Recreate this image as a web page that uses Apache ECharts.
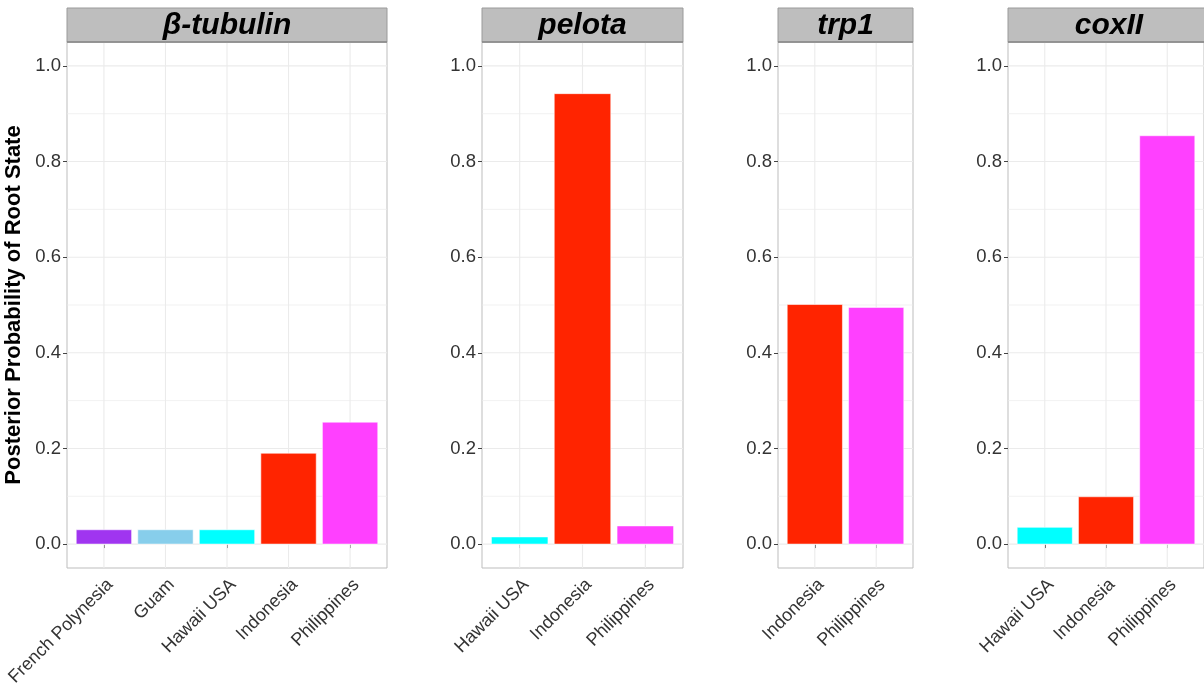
<!DOCTYPE html>
<html>
<head>
<meta charset="utf-8">
<script src="https://cdn.jsdelivr.net/npm/echarts@6/dist/echarts.min.js"></script>
<style>
  html, body { margin: 0; padding: 0; background: #ffffff; }
  #chart { width: 1204px; height: 698px; }
</style>
</head>
<body>
<div id="chart"></div>
<script>
// ---- data ----
const genes = ['β-tubulin', 'pelota', 'trp1', 'coxII'];
const catsTubulin = ['French Polynesia', 'Guam', 'Hawaii USA', 'Indonesia', 'Philippines'];
const valsTubulin = [0.030, 0.030, 0.030, 0.190, 0.255];
const catsPelota = ['Hawaii USA', 'Indonesia', 'Philippines'];
const valsPelota = [0.015, 0.942, 0.038];
const catsTrp1 = ['Indonesia', 'Philippines'];
const valsTrp1 = [0.501, 0.495];
const catsCoxII = ['Hawaii USA', 'Indonesia', 'Philippines'];
const valsCoxII = [0.035, 0.099, 0.854];
const yTicks = [0, 0.2, 0.4, 0.6, 0.8, 1.0];
const yTitle = 'Posterior Probability of Root State';

// ---- styles ----
const regionColors = {
  'French Polynesia': '#A035F0',
  'Guam': '#87CEEB',
  'Hawaii USA': '#00FFFF',
  'Indonesia': '#FF2400',
  'Philippines': '#FF40FF'
};
const FONT = '"Liberation Sans", Arial, Helvetica, sans-serif';
const panels = [
  { left: 67, width: 320 },
  { left: 482, width: 201 },
  { left: 778, width: 135 },
  { left: 1008, width: 202 }
];
const PLOT_TOP = 42, PLOT_H = 526, STRIP_TOP = 8, STRIP_H = 34;
const Y_MIN = -0.05, Y_MAX = 1.05;

const panelData = [
  { cats: catsTubulin, vals: valsTubulin },
  { cats: catsPelota, vals: valsPelota },
  { cats: catsTrp1, vals: valsTrp1 },
  { cats: catsCoxII, vals: valsCoxII }
];

const chart = echarts.init(document.getElementById('chart'), null, { renderer: 'canvas' });

const grids = [], xAxes = [], yAxes = [], series = [], graphics = [];

panelData.forEach((pd, k) => {
  const n = pd.cats.length;
  const xMin = 0.4, xMax = n + 0.6;
  const pos = [];
  for (let i = 1; i <= n; i++) pos.push(i);

  grids.push({
    left: panels[k].left, top: PLOT_TOP, width: panels[k].width, height: PLOT_H,
    show: true, borderColor: '#BDBDBD', borderWidth: 1, backgroundColor: '#ffffff',
    containLabel: false
  });

  xAxes.push({
    type: 'value', gridIndex: k, min: xMin, max: xMax,
    axisLine: { show: false },
    splitLine: { show: false },
    axisTick: { show: true, customValues: pos, length: 4, lineStyle: { color: '#444', width: 1 } },
    axisLabel: {
      show: true,
      customValues: pos.map(p => p + 0.1),
      rotate: 45,
      margin: 14,
      fontSize: 18,
      color: '#333',
      fontFamily: FONT,
      formatter: v => pd.cats[Math.round(v) - 1] || ''
    }
  });

  yAxes.push({
    type: 'value', gridIndex: k, min: Y_MIN, max: Y_MAX,
    axisLine: { show: false },
    splitLine: { show: false },
    axisTick: { show: true, customValues: yTicks, length: 4, lineStyle: { color: '#444', width: 1 } },
    axisLabel: {
      show: true, customValues: yTicks, margin: 6, fontSize: 18.5, color: '#333', fontFamily: FONT,
      formatter: v => Number(v).toFixed(1)
    },
    name: k === 0 ? yTitle : '',
    nameLocation: 'middle',
    nameRotate: 90,
    nameGap: 42,
    nameTextStyle: { fontSize: 22, fontWeight: 'bold', color: '#000', fontFamily: FONT }
  });

  // grid lines (major + minor), drawn through the axes' scales
  const gridLines = [];
  for (let j = 0; j <= 10; j++) gridLines.push([xMin, j / 10, j % 2 === 0 ? 1 : 2]);
  pos.forEach(p => gridLines.push([p, Y_MIN, 0]));
  series.push({
    type: 'custom', xAxisIndex: k, yAxisIndex: k, silent: true, animation: false, z: 1,
    data: gridLines,
    renderItem: (params, api) => {
      const kind = api.value(2);
      let a, b;
      if (kind === 0) { a = api.coord([api.value(0), Y_MIN]); b = api.coord([api.value(0), Y_MAX]); }
      else { a = api.coord([xMin, api.value(1)]); b = api.coord([xMax, api.value(1)]); }
      return {
        type: 'line',
        shape: { x1: a[0], y1: a[1], x2: b[0], y2: b[1] },
        style: { stroke: '#EBEBEB', lineWidth: kind === 2 ? 0.7 : 1.1 }
      };
    }
  });

  // bars
  series.push({
    type: 'custom', xAxisIndex: k, yAxisIndex: k, animation: false, z: 2,
    data: pd.cats.map((c, i) => [i + 1, pd.vals[i], i]),
    renderItem: (params, api) => {
      const x = api.value(0), y = api.value(1);
      const c = pd.cats[api.value(2)];
      const p0 = api.coord([x - 0.45, 0]);
      const p1 = api.coord([x + 0.45, y]);
      return {
        type: 'rect',
        shape: { x: p0[0], y: p1[1], width: p1[0] - p0[0], height: p0[1] - p1[1] },
        style: { fill: regionColors[c], stroke: 'rgba(255,255,255,0.55)', lineWidth: 1 }
      };
    }
  });

  // facet strip
  graphics.push({
    type: 'rect',
    shape: { x: panels[k].left, y: STRIP_TOP, width: panels[k].width, height: STRIP_H },
    style: { fill: '#BEBEBE', stroke: '#9A9A9A', lineWidth: 1 },
    z: 10
  });
  graphics.push({
    type: 'line',
    shape: { x1: panels[k].left, y1: PLOT_TOP, x2: panels[k].left + panels[k].width, y2: PLOT_TOP },
    style: { stroke: '#888888', lineWidth: 1.5 },
    z: 11
  });
  graphics.push({
    type: 'text',
    x: panels[k].left + panels[k].width / 2,
    y: STRIP_TOP + STRIP_H / 2 + 1,
    style: {
      text: genes[k], fill: '#000', fontSize: 30, fontWeight: 'bold', fontStyle: 'italic',
      fontFamily: FONT, align: 'center', verticalAlign: 'middle'
    },
    z: 12
  });
});

chart.setOption({
  animation: false,
  backgroundColor: '#ffffff',
  grid: grids,
  xAxis: xAxes,
  yAxis: yAxes,
  series: series,
  graphic: { elements: graphics }
});
</script>
</body>
</html>
